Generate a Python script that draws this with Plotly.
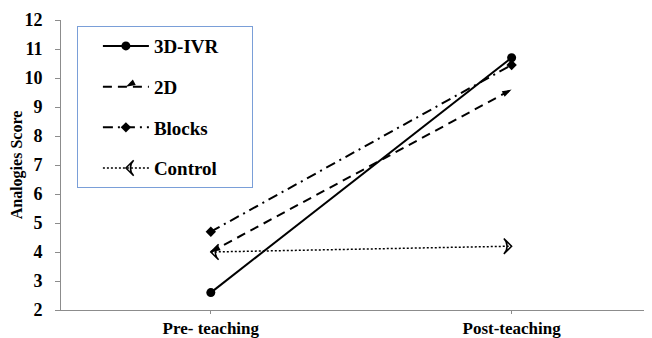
import plotly.graph_objects as go

categories = ["Pre- teaching", "Post-teaching"]
series_names = ["3D-IVR", "2D", "Blocks", "Control"]
ivr_3d = [2.6, 10.7]
two_d = [4.0, 9.6]
blocks = [4.7, 10.45]
control = [4.0, 4.2]
y_ticks = list(range(2, 13))

FONT = "Liberation Serif"
x = [0, 1]
PAD = "\u00a0" * 6

fig = go.Figure()
fig.add_trace(go.Scatter(
    x=x, y=ivr_3d, name=series_names[0] + PAD, mode="lines+markers",
    line=dict(color="black", width=2),
    marker=dict(symbol="circle", size=9, color="black"),
    legendgroup="a"))
fig.add_trace(go.Scatter(
    x=x, y=two_d, name=series_names[1], mode="lines+markers",
    line=dict(color="black", width=2, dash="9px,6px"),
    marker=dict(symbol="arrow", size=10, color="black", angle=[-118, 62]),
    legendgroup="b"))
fig.add_trace(go.Scatter(
    x=x, y=blocks, name=series_names[2], mode="lines+markers",
    line=dict(color="black", width=2, dash="10px,5px,2px,5px"),
    marker=dict(symbol="diamond", size=8, color="black"),
    legendgroup="c"))
fig.add_trace(go.Scatter(
    x=x, y=control, name=series_names[3], mode="lines+markers",
    line=dict(color="black", width=1.5, dash="2px,2px"),
    marker=dict(symbol="arrow-wide-open", size=11, color="black",
                angle=[-90, 90], line=dict(width=1.5, color="black")),
    legendgroup="d"))

# page body has an 8px margin, so the figure is drawn offset by (8, 8)
fig.update_layout(
    width=644, height=330,
    margin=dict(l=53, r=2, t=12, b=28, autoexpand=False),
    paper_bgcolor="white", plot_bgcolor="white",
    font=dict(family=FONT, color="black"),
    showlegend=True,
    legend=dict(
        x=0.027, y=0.979, xanchor="left", yanchor="top",
        bordercolor="#7a9fd8", borderwidth=1, bgcolor="white",
        font=dict(family=FONT, size=19, color="black", weight="bold"),
        tracegroupgap=13, itemwidth=46, indentation=20,
    ),
)
fig.update_xaxes(
    tickmode="array", tickvals=x, ticktext=categories,
    range=[-0.498, 1.46], automargin=False,
    showline=True, linecolor="#8c8c8c", linewidth=1,
    ticks="outside", ticklen=3, tickcolor="#8c8c8c",
    ticklabelstandoff=0,
    showgrid=False, zeroline=False,
    tickfont=dict(family=FONT, size=17, weight="bold"),
)
fig.update_yaxes(
    range=[2, 12], tickvals=y_ticks, automargin=False,
    showline=True, linecolor="#8c8c8c", linewidth=1,
    ticks="outside", ticklen=5, tickcolor="#8c8c8c",
    ticklabelstandoff=9,
    showgrid=False, zeroline=False,
    tickfont=dict(family=FONT, size=18, weight="bold"),
    title=dict(text="Analogies Score", standoff=1,
               font=dict(family=FONT, size=16, weight="bold")),
)

fig.write_html("out.html")
